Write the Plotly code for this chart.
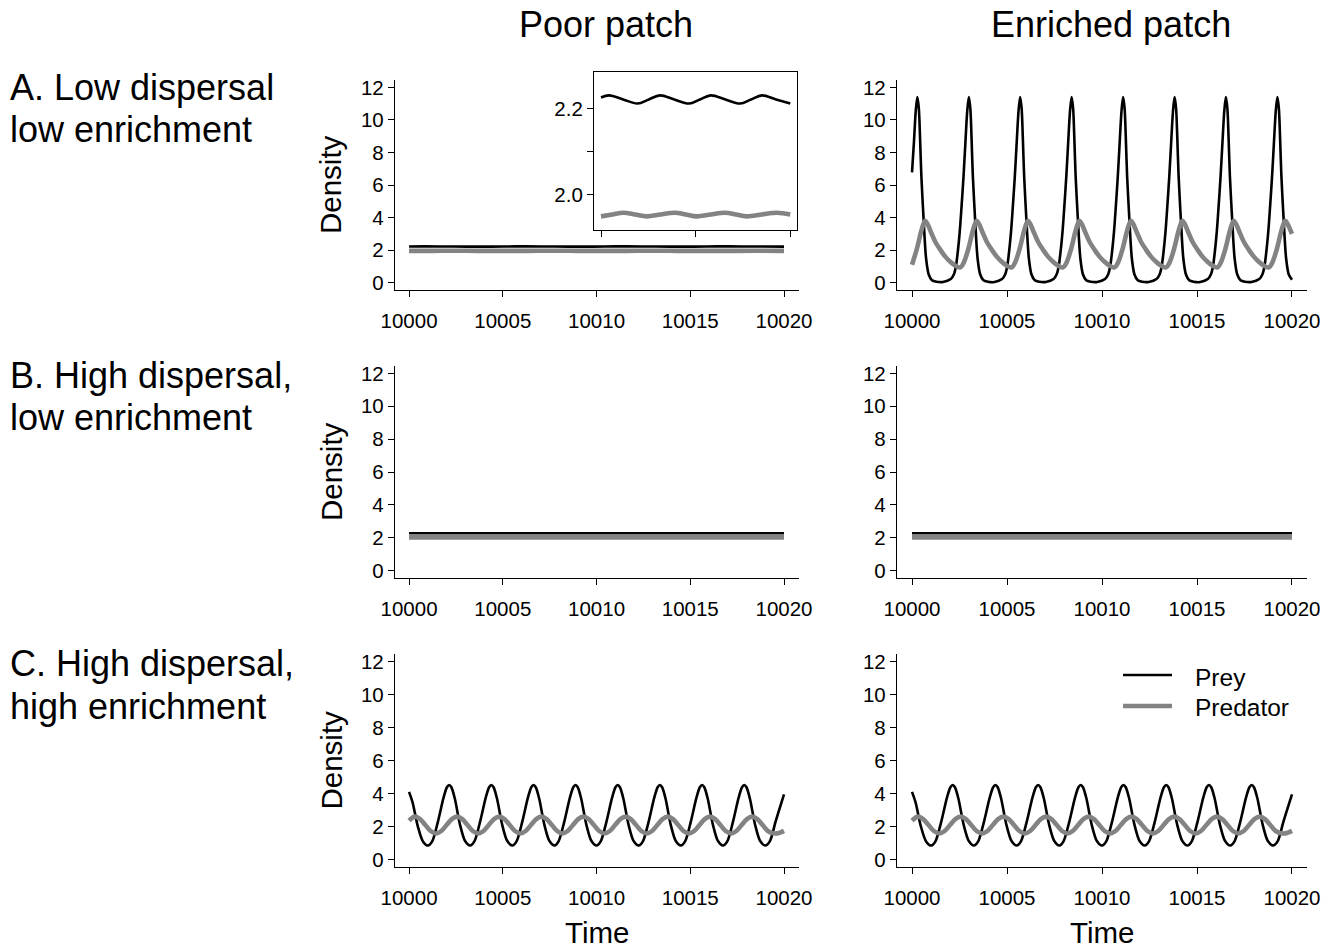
import plotly.graph_objects as go

# ---------------- data ----------------
# Row A, poor patch (also shown in the inset)
time_A_poor_prey = [10000.00, 10000.85, 10002.35, 10003.85, 10005.05, 10006.22, 10007.75, 10009.30,
                    10010.45, 10011.60, 10013.15, 10014.70, 10015.85, 10017.00, 10018.50, 10020.00]
dens_A_poor_prey = [2.2255, 2.2305, 2.2210, 2.2115, 2.2210, 2.2305, 2.2210, 2.2115,
                    2.2210, 2.2305, 2.2210, 2.2115, 2.2210, 2.2305, 2.2210, 2.2115]
time_A_poor_pred = [10000.00, 10001.20, 10002.36, 10003.60, 10004.82, 10006.30, 10007.82, 10008.95,
                    10010.11, 10011.60, 10013.12, 10014.25, 10015.40, 10017.00, 10018.57, 10020.00]
dens_A_poor_pred = [1.9505, 1.9550, 1.9590, 1.9550, 1.9505, 1.9550, 1.9590, 1.9550,
                    1.9505, 1.9550, 1.9590, 1.9550, 1.9505, 1.9550, 1.9590, 1.9550]

# Row A, enriched patch
time_A_rich_prey = [
    10000.00, 10000.10, 10000.20, 10000.28, 10000.36, 10000.42, 10000.49, 10000.61, 10000.74, 10000.88, 10001.05, 10001.28, 10001.63,
    10002.04, 10002.20, 10002.31, 10002.41, 10002.51, 10002.60, 10002.71, 10002.81, 10002.91, 10002.99, 10003.07, 10003.13, 10003.20, 10003.32, 10003.45, 10003.59, 10003.76, 10003.99, 10004.34,
    10004.74, 10004.90, 10005.01, 10005.11, 10005.21, 10005.30, 10005.41, 10005.51, 10005.61, 10005.69, 10005.77, 10005.83, 10005.90, 10006.02, 10006.15, 10006.29, 10006.46, 10006.69, 10007.04,
    10007.45, 10007.61, 10007.72, 10007.82, 10007.92, 10008.01, 10008.12, 10008.22, 10008.32, 10008.40, 10008.48, 10008.54, 10008.61, 10008.73, 10008.86, 10009.00, 10009.17, 10009.40, 10009.75,
    10010.16, 10010.32, 10010.43, 10010.53, 10010.63, 10010.72, 10010.83, 10010.93, 10011.03, 10011.11, 10011.19, 10011.25, 10011.32, 10011.44, 10011.57, 10011.71, 10011.88, 10012.11, 10012.46,
    10012.87, 10013.03, 10013.14, 10013.24, 10013.34, 10013.43, 10013.54, 10013.64, 10013.74, 10013.82, 10013.90, 10013.96, 10014.03, 10014.15, 10014.28, 10014.42, 10014.59, 10014.82, 10015.17,
    10015.57, 10015.73, 10015.84, 10015.94, 10016.04, 10016.13, 10016.24, 10016.34, 10016.44, 10016.52, 10016.60, 10016.66, 10016.73, 10016.85, 10016.98, 10017.12, 10017.29, 10017.52, 10017.87,
    10018.28, 10018.44, 10018.55, 10018.65, 10018.75, 10018.84, 10018.95, 10019.05, 10019.15, 10019.23, 10019.31, 10019.37, 10019.44, 10019.56, 10019.69, 10019.83, 10020.00]
dens_A_rich_prey = [
    6.78, 8.60, 10.60, 11.40, 10.70, 9.00, 6.60, 3.90, 1.50, 0.50, 0.15, 0.06, 0.04,
    0.22, 0.50, 1.00, 1.90, 3.10, 4.55, 6.50, 8.60, 10.60, 11.40, 10.70, 9.00, 6.60, 3.90, 1.50, 0.50, 0.15, 0.06, 0.04,
    0.22, 0.50, 1.00, 1.90, 3.10, 4.55, 6.50, 8.60, 10.60, 11.40, 10.70, 9.00, 6.60, 3.90, 1.50, 0.50, 0.15, 0.06, 0.04,
    0.22, 0.50, 1.00, 1.90, 3.10, 4.55, 6.50, 8.60, 10.60, 11.40, 10.70, 9.00, 6.60, 3.90, 1.50, 0.50, 0.15, 0.06, 0.04,
    0.22, 0.50, 1.00, 1.90, 3.10, 4.55, 6.50, 8.60, 10.60, 11.40, 10.70, 9.00, 6.60, 3.90, 1.50, 0.50, 0.15, 0.06, 0.04,
    0.22, 0.50, 1.00, 1.90, 3.10, 4.55, 6.50, 8.60, 10.60, 11.40, 10.70, 9.00, 6.60, 3.90, 1.50, 0.50, 0.15, 0.06, 0.04,
    0.22, 0.50, 1.00, 1.90, 3.10, 4.55, 6.50, 8.60, 10.60, 11.40, 10.70, 9.00, 6.60, 3.90, 1.50, 0.50, 0.15, 0.06, 0.04,
    0.22, 0.50, 1.00, 1.90, 3.10, 4.55, 6.50, 8.60, 10.60, 11.40, 10.70, 9.00, 6.60, 3.90, 1.50, 0.50, 0.18]

time_A_rich_pred = [
    10000.00, 10000.26, 10000.47, 10000.60, 10000.70, 10000.82, 10001.00, 10001.23, 10001.50, 10001.75, 10002.00, 10002.25,
    10002.53, 10002.71, 10002.97, 10003.18, 10003.31, 10003.41, 10003.53, 10003.71, 10003.94, 10004.21, 10004.46, 10004.71, 10004.96,
    10005.23, 10005.41, 10005.67, 10005.88, 10006.01, 10006.11, 10006.23, 10006.41, 10006.64, 10006.91, 10007.16, 10007.41, 10007.66,
    10007.94, 10008.12, 10008.38, 10008.59, 10008.72, 10008.82, 10008.94, 10009.12, 10009.35, 10009.62, 10009.87, 10010.12, 10010.37,
    10010.65, 10010.83, 10011.09, 10011.30, 10011.43, 10011.53, 10011.65, 10011.83, 10012.06, 10012.33, 10012.58, 10012.83, 10013.08,
    10013.36, 10013.54, 10013.80, 10014.01, 10014.14, 10014.24, 10014.36, 10014.54, 10014.77, 10015.04, 10015.29, 10015.54, 10015.79,
    10016.06, 10016.24, 10016.50, 10016.71, 10016.84, 10016.94, 10017.06, 10017.24, 10017.47, 10017.74, 10017.99, 10018.24, 10018.49,
    10018.77, 10018.95, 10019.21, 10019.42, 10019.55, 10019.65, 10019.77, 10020.00]
dens_A_rich_pred = [
    1.10, 2.10, 3.10, 3.60, 3.80, 3.60, 3.10, 2.50, 2.00, 1.60, 1.30, 1.07,
    0.93, 1.20, 2.10, 3.10, 3.60, 3.80, 3.60, 3.10, 2.50, 2.00, 1.60, 1.30, 1.07,
    0.93, 1.20, 2.10, 3.10, 3.60, 3.80, 3.60, 3.10, 2.50, 2.00, 1.60, 1.30, 1.07,
    0.93, 1.20, 2.10, 3.10, 3.60, 3.80, 3.60, 3.10, 2.50, 2.00, 1.60, 1.30, 1.07,
    0.93, 1.20, 2.10, 3.10, 3.60, 3.80, 3.60, 3.10, 2.50, 2.00, 1.60, 1.30, 1.07,
    0.93, 1.20, 2.10, 3.10, 3.60, 3.80, 3.60, 3.10, 2.50, 2.00, 1.60, 1.30, 1.07,
    0.93, 1.20, 2.10, 3.10, 3.60, 3.80, 3.60, 3.10, 2.50, 2.00, 1.60, 1.30, 1.07,
    0.93, 1.20, 2.10, 3.10, 3.60, 3.80, 3.60, 3.00]

# Row B (both patches look identical and flat)
time_B = [10000, 10005, 10010, 10015, 10020]
dens_B_prey = [2.27, 2.27, 2.27, 2.27, 2.27]
dens_B_pred = [2.02, 2.02, 2.02, 2.02, 2.02]

# Row C (both patches look identical)
time_C_prey = [
    10000.00, 10000.19, 10000.47, 10000.74, 10001.01,
    10001.24, 10001.54, 10001.84, 10002.02, 10002.14, 10002.26, 10002.44, 10002.72, 10002.99, 10003.26,
    10003.49, 10003.79, 10004.09, 10004.27, 10004.39, 10004.51, 10004.69, 10004.97, 10005.24, 10005.51,
    10005.74, 10006.04, 10006.34, 10006.52, 10006.64, 10006.76, 10006.94, 10007.22, 10007.49, 10007.76,
    10007.98, 10008.28, 10008.58, 10008.76, 10008.88, 10009.00, 10009.18, 10009.46, 10009.73, 10010.00,
    10010.23, 10010.53, 10010.83, 10011.01, 10011.13, 10011.25, 10011.43, 10011.71, 10011.98, 10012.25,
    10012.48, 10012.78, 10013.08, 10013.26, 10013.38, 10013.50, 10013.68, 10013.96, 10014.23, 10014.50,
    10014.73, 10015.03, 10015.33, 10015.51, 10015.63, 10015.75, 10015.93, 10016.21, 10016.48, 10016.75,
    10016.98, 10017.28, 10017.58, 10017.76, 10017.88, 10018.00, 10018.18, 10018.46, 10018.73, 10019.00,
    10019.25, 10019.55, 10019.85, 10020.00]
dens_C_prey = [
    4.10, 3.45, 2.00, 1.10, 0.85,
    1.12, 2.30, 3.75, 4.38, 4.52, 4.38, 3.70, 2.10, 1.12, 0.85,
    1.12, 2.30, 3.75, 4.38, 4.52, 4.38, 3.70, 2.10, 1.12, 0.85,
    1.12, 2.30, 3.75, 4.38, 4.52, 4.38, 3.70, 2.10, 1.12, 0.85,
    1.12, 2.30, 3.75, 4.38, 4.52, 4.38, 3.70, 2.10, 1.12, 0.85,
    1.12, 2.30, 3.75, 4.38, 4.52, 4.38, 3.70, 2.10, 1.12, 0.85,
    1.12, 2.30, 3.75, 4.38, 4.52, 4.38, 3.70, 2.10, 1.12, 0.85,
    1.12, 2.30, 3.75, 4.38, 4.52, 4.38, 3.70, 2.10, 1.12, 0.85,
    1.12, 2.30, 3.75, 4.38, 4.52, 4.38, 3.70, 2.10, 1.12, 0.85,
    1.12, 2.30, 3.40, 3.95]
time_C_pred = [
    10000.00, 10000.31,
    10000.59, 10000.87, 10001.15, 10001.44, 10001.72, 10002.00, 10002.28, 10002.56,
    10002.84, 10003.12, 10003.40, 10003.69, 10003.97, 10004.25, 10004.53, 10004.81,
    10005.09, 10005.37, 10005.65, 10005.94, 10006.22, 10006.50, 10006.78, 10007.06,
    10007.34, 10007.62, 10007.90, 10008.18, 10008.46, 10008.74, 10009.02, 10009.30,
    10009.58, 10009.86, 10010.14, 10010.43, 10010.71, 10010.99, 10011.27, 10011.55,
    10011.83, 10012.11, 10012.39, 10012.68, 10012.96, 10013.24, 10013.52, 10013.80,
    10014.08, 10014.36, 10014.64, 10014.93, 10015.21, 10015.49, 10015.77, 10016.05,
    10016.33, 10016.61, 10016.89, 10017.18, 10017.46, 10017.74, 10018.02, 10018.30,
    10018.58, 10018.86, 10019.14, 10019.50, 10019.78, 10020.00]
dens_C_pred = [
    2.36, 2.60,
    2.45, 2.09, 1.73, 1.58, 1.73, 2.09, 2.45, 2.60,
    2.45, 2.09, 1.73, 1.58, 1.73, 2.09, 2.45, 2.60,
    2.45, 2.09, 1.73, 1.58, 1.73, 2.09, 2.45, 2.60,
    2.45, 2.09, 1.73, 1.58, 1.73, 2.09, 2.45, 2.60,
    2.45, 2.09, 1.73, 1.58, 1.73, 2.09, 2.45, 2.60,
    2.45, 2.09, 1.73, 1.58, 1.73, 2.09, 2.45, 2.60,
    2.45, 2.09, 1.73, 1.58, 1.73, 2.09, 2.45, 2.60,
    2.45, 2.09, 1.73, 1.58, 1.73, 2.09, 2.45, 2.60,
    2.45, 2.09, 1.73, 1.58, 1.63, 1.74]

col_titles = ["Poor patch", "Enriched patch"]
row_labels = [["A. Low dispersal", "low enrichment"],
              ["B. High dispersal,", "low enrichment"],
              ["C. High dispersal,", "high enrichment"]]
series_names = ["Prey", "Predator"]
x_ticks = [10000, 10005, 10010, 10015, 10020]
y_ticks = [0, 2, 4, 6, 8, 10, 12]
inset_y_ticks = [2.0, 2.1, 2.2]
inset_y_text = ["2.0", "", "2.2"]

# ---------------- layout helpers ----------------
W, H = 1334, 950
FONT = "Liberation Sans, Arial, Helvetica, sans-serif"
PREY_COL, PRED_COL = "#000000", "#838383"
PREY_W, PRED_W = 2.6, 4.6
TICK_SIZE = 20.5

def fx(px):
    return px / W

def fy(py):
    return 1 - py / H

col_px = [(395, 799), (897, 1307)]
row_px = [(80, 290), (366, 578), (654, 867)]
xr = [[9999.25, 10020.8], [9999.21, 10020.79]]
yr = [-0.45, 12.45]

fig = go.Figure()

panels = [
    (0, 0, time_A_poor_prey, dens_A_poor_prey, time_A_poor_pred, dens_A_poor_pred),
    (0, 1, time_A_rich_prey, dens_A_rich_prey, time_A_rich_pred, dens_A_rich_pred),
    (1, 0, time_B, dens_B_prey, time_B, dens_B_pred),
    (1, 1, time_B, dens_B_prey, time_B, dens_B_pred),
    (2, 0, time_C_prey, dens_C_prey, time_C_pred, dens_C_pred),
    (2, 1, time_C_prey, dens_C_prey, time_C_pred, dens_C_pred),
]

layout_axes = {}
for i, (r, c, tx, vy, tp, vp) in enumerate(panels):
    n = i + 1
    xa = "x" if n == 1 else f"x{n}"
    ya = "y" if n == 1 else f"y{n}"
    fig.add_trace(go.Scatter(x=tx, y=vy, mode="lines", name=series_names[0],
                             line=dict(color=PREY_COL, width=PREY_W, shape="spline", smoothing=0.8),
                             xaxis=xa, yaxis=ya, showlegend=False, hoverinfo="skip"))
    fig.add_trace(go.Scatter(x=tp, y=vp, mode="lines", name=series_names[1],
                             line=dict(color=PRED_COL, width=PRED_W, shape="spline", smoothing=1.0),
                             xaxis=xa, yaxis=ya, showlegend=False, hoverinfo="skip"))
    x0, x1 = col_px[c]
    y0, y1 = row_px[r]
    common = dict(showline=True, linecolor="black", linewidth=1.3, ticks="outside",
                  ticklen=6, tickwidth=1.3, tickcolor="black", showgrid=False, zeroline=False,
                  automargin=False, tickfont=dict(family=FONT, size=TICK_SIZE, color="black"))
    layout_axes["xaxis" if n == 1 else f"xaxis{n}"] = dict(
        domain=[fx(x0), fx(x1)], range=xr[c], anchor=ya, tickvals=x_ticks,
        ticktext=[str(v) for v in x_ticks], ticklabelstandoff=6, **common)
    layout_axes["yaxis" if n == 1 else f"yaxis{n}"] = dict(
        domain=[fy(y1), fy(y0)], range=yr, anchor=xa, tickvals=y_ticks,
        ticktext=[str(v) for v in y_ticks], **common)

# Inset in panel A / poor patch
fig.add_trace(go.Scatter(x=time_A_poor_prey, y=dens_A_poor_prey, mode="lines", name=series_names[0],
                         line=dict(color=PREY_COL, width=PREY_W, shape="spline"),
                         xaxis="x7", yaxis="y7", showlegend=False, hoverinfo="skip"))
fig.add_trace(go.Scatter(x=time_A_poor_pred, y=dens_A_poor_pred, mode="lines", name=series_names[1],
                         line=dict(color=PRED_COL, width=PRED_W, shape="spline"),
                         xaxis="x7", yaxis="y7", showlegend=False, hoverinfo="skip"))
layout_axes["xaxis7"] = dict(domain=[fx(594), fx(797)], range=[9999.26, 10020.71], anchor="y7",
                             showline=True, mirror=True, linecolor="black", linewidth=1.2,
                             ticks="outside", ticklen=6, tickwidth=1.2, tickcolor="black",
                             tickvals=[10000, 10010, 10020], showticklabels=False,
                             showgrid=False, zeroline=False, automargin=False)
layout_axes["yaxis7"] = dict(domain=[fy(230), fy(72)], range=[1.919, 2.2845], anchor="x7",
                             showline=True, mirror=True, linecolor="black", linewidth=1.2,
                             ticks="outside", ticklen=6, tickwidth=1.2, tickcolor="black",
                             tickvals=inset_y_ticks, ticktext=inset_y_text,
                             tickfont=dict(family=FONT, size=TICK_SIZE, color="black"),
                             showgrid=False, zeroline=False, automargin=False)

ann = []
# column titles
for txt, cx in zip(col_titles, [606, 1111]):
    ann.append(dict(text=txt, x=fx(cx), y=fy(25), xref="paper", yref="paper",
                    xanchor="center", yanchor="middle", showarrow=False,
                    font=dict(family=FONT, size=36, color="black")))
# row labels
for (l1, l2), (ya1, ya2) in zip(row_labels, [(88, 130), (375, 417), (663, 706)]):
    for txt, yy in [(l1, ya1), (l2, ya2)]:
        ann.append(dict(text=txt, x=fx(8), y=fy(yy), xref="paper", yref="paper",
                        xanchor="left", yanchor="middle", showarrow=False,
                        font=dict(family=FONT, size=36, color="black")))
# Density titles
for (y0, y1) in row_px:
    ann.append(dict(text="Density", x=fx(331), y=fy((y0 + y1) / 2), xref="paper", yref="paper",
                    xanchor="center", yanchor="middle", textangle=-90, showarrow=False,
                    font=dict(family=FONT, size=29.5, color="black")))
# Time titles
for (x0, x1) in col_px:
    ann.append(dict(text="Time", x=fx((x0 + x1) / 2), y=fy(950), xref="paper", yref="paper",
                    xanchor="center", yanchor="bottom", showarrow=False, borderpad=0,
                    font=dict(family=FONT, size=29.5, color="black")))
# legend (drawn in the bottom-right panel)
shapes = []
for name, col, w, yy, ty in [(series_names[0], PREY_COL, PREY_W, 675, 677),
                             (series_names[1], PRED_COL, PRED_W, 706, 707)]:
    shapes.append(dict(type="line", xref="paper", yref="paper", x0=fx(1123), x1=fx(1172),
                       y0=fy(yy), y1=fy(yy), line=dict(color=col, width=w)))
    ann.append(dict(text=name, x=fx(1193), y=fy(ty), xref="paper", yref="paper",
                    xanchor="left", yanchor="middle", showarrow=False,
                    font=dict(family=FONT, size=24.5, color="black")))

fig.update_layout(template="none", width=W, height=H, autosize=False,
                  margin=dict(l=0, r=0, t=0, b=0, pad=0, autoexpand=False),
                  paper_bgcolor="white", plot_bgcolor="white",
                  font=dict(family=FONT, color="black"),
                  showlegend=False, annotations=ann, shapes=shapes, **layout_axes)

fig.write_html("out.html", config={"displayModeBar": False},
               post_script="document.body.style.margin='0px';document.body.style.padding='0px';"
                           "document.body.style.overflow='hidden';")
